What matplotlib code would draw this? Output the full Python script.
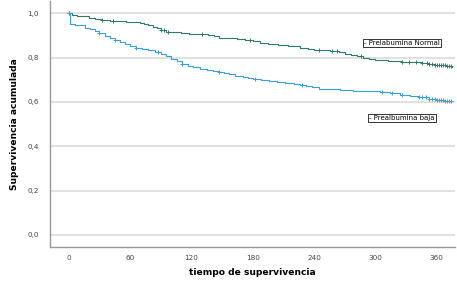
import numpy as np
import matplotlib.pyplot as plt

# Kaplan-Meier curves
t_normal = [0, 3, 8, 14, 20, 26, 32, 40, 48, 56, 64, 70, 74, 78, 82, 86, 90, 95,
            102, 110, 118, 128, 136, 142, 147, 155, 165, 172, 180, 187, 195, 205,
            214, 226, 234, 240, 248, 256, 264, 270, 276, 282, 288, 294, 300, 306,
            312, 318, 326, 335, 345, 352, 358, 364, 370, 375]
s_normal = [1.0, 0.993, 0.987, 0.985, 0.98, 0.975, 0.969, 0.966, 0.963, 0.96,
            0.958, 0.955, 0.95, 0.945, 0.938, 0.931, 0.924, 0.916, 0.913, 0.91,
            0.907, 0.904, 0.9, 0.895, 0.89, 0.887, 0.884, 0.879, 0.874, 0.867,
            0.863, 0.857, 0.85, 0.845, 0.84, 0.835, 0.832, 0.828, 0.824, 0.818,
            0.812, 0.806, 0.8, 0.795, 0.79, 0.787, 0.784, 0.782, 0.78, 0.778,
            0.774, 0.771, 0.768, 0.765, 0.762, 0.759]
c_normal = [0, 33, 43, 90, 93, 97, 130, 177, 245, 258, 262, 286, 326, 333, 340, 346,
            350, 352, 355, 358, 360, 362, 364, 366, 368, 370, 372, 374]

t_baja = [0, 1, 6, 11, 16, 21, 26, 30, 35, 40, 45, 50, 55, 60, 66, 72, 78, 84, 90,
          95, 100, 106, 111, 117, 122, 128, 135, 141, 147, 152, 157, 163, 170,
          175, 180, 188, 196, 204, 212, 220, 226, 232, 238, 245, 255, 265, 278,
          290, 304, 314, 324, 334, 343, 352, 360, 368, 375]
s_baja = [1.0, 0.952, 0.948, 0.945, 0.935, 0.927, 0.918, 0.909, 0.898, 0.888,
          0.878, 0.87, 0.862, 0.853, 0.844, 0.838, 0.832, 0.826, 0.818, 0.808,
          0.795, 0.782, 0.772, 0.762, 0.755, 0.748, 0.744, 0.74, 0.736, 0.73,
          0.724, 0.718, 0.712, 0.706, 0.701, 0.697, 0.693, 0.688, 0.684, 0.681,
          0.677, 0.672, 0.666, 0.66, 0.657, 0.654, 0.65, 0.647, 0.643, 0.638,
          0.632, 0.626, 0.62, 0.615, 0.61, 0.606, 0.602]
c_baja = [0, 30, 45, 66, 87, 111, 147, 182, 228, 306, 316, 326, 343, 346, 349, 352,
          355, 358, 360, 362, 364, 366, 368, 370, 372, 374]

x_ticks = [0, 60, 120, 180, 240, 300, 360]
y_ticks = [0.0, 0.2, 0.4, 0.6, 0.8, 1.0]

col_normal = "#2f7b69"
col_baja = "#3c9ddb"


def surv_at(times, surv, c):
    idx = np.searchsorted(times, c, side="right") - 1
    return np.array(surv)[idx]


fig = plt.figure(figsize=(4.57, 2.96), dpi=100)
ax = fig.add_axes([0.109, 0.166, 0.887, 0.83])

for t, s, c, col in [(t_normal, s_normal, c_normal, col_normal),
                     (t_baja, s_baja, c_baja, col_baja)]:
    ax.plot(t, s, drawstyle="steps-post", color=col, lw=0.8)
    ax.plot(c, surv_at(t, s, c), ls="none", marker="+", ms=3.5, mew=0.7, color=col)

ax.set_xlim(-18.5, 378)
ax.set_ylim(-0.054, 1.054)
ax.set_xticks(x_ticks)
ax.set_yticks(y_ticks)
ax.set_yticklabels([f"{v:.1f}".replace(".", ",") for v in y_ticks])
ax.tick_params(axis="y", length=0, labelsize=5.2, colors="#444444", pad=8)
ax.tick_params(axis="x", length=0, labelsize=5.2, colors="#444444", pad=6)
ax.grid(axis="y", color="#d9d9d9", lw=1.1)
ax.set_axisbelow(True)
for side in ["top", "right"]:
    ax.spines[side].set_visible(False)
for side in ["left", "bottom"]:
    ax.spines[side].set_color("#999999")
    ax.spines[side].set_linewidth(1.0)

ax.set_xlabel("tiempo de supervivencia", fontsize=6.6, fontweight="bold", labelpad=5)
ax.set_ylabel("Supervivencia acumulada", fontsize=6.6, fontweight="bold", labelpad=6)

box = dict(boxstyle="square,pad=0.15", fc="white", ec="#333333", lw=0.7)
ax.text(289, 0.867, "- Prelabumina Normal", fontsize=5.0, va="center", ha="left", bbox=box)
ax.text(294, 0.529, "- Prealbumina baja", fontsize=5.0, va="center", ha="left", bbox=box)

fig.savefig("out.png", dpi=100)
